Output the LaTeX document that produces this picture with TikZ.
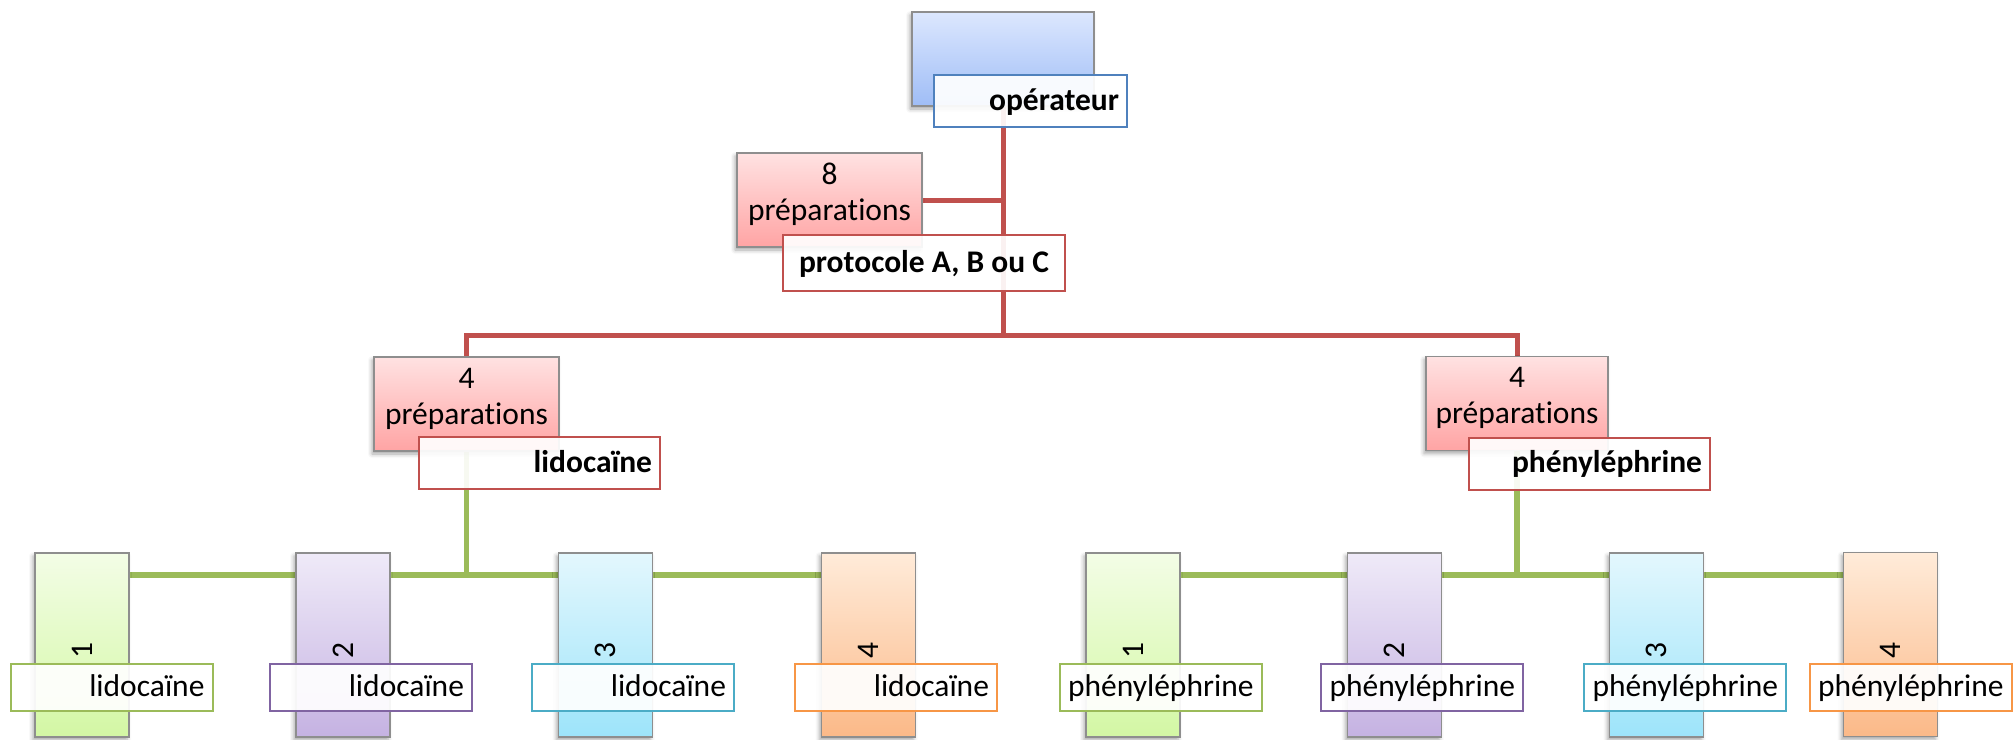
\documentclass[tikz,border=0pt]{standalone}
\usepackage{fontspec}
\setmainfont[Ligatures=NoCommon]{Carlito}
\usetikzlibrary{shadows.blur,backgrounds}

% frame and connector colours
\definecolor{boxgray}{HTML}{8E8E8E}
\definecolor{lineRed}{HTML}{C0504D}
\definecolor{lineGreen}{HTML}{9BBB59}
\definecolor{tagBlue}{HTML}{4F81BD}
\definecolor{tagPurple}{HTML}{8064A2}
\definecolor{tagAqua}{HTML}{4BACC6}
\definecolor{tagOrange}{HTML}{F79646}
% gradient fills
\definecolor{blueTop}{HTML}{DCE7FE}
\definecolor{blueBot}{HTML}{9FBDF6}
\definecolor{redTop}{HTML}{FFE2E2}
\definecolor{redBot}{HTML}{FFA4A4}
\definecolor{greenTop}{HTML}{F3FDE6}
\definecolor{greenBot}{HTML}{D3F7A4}
\definecolor{purpTop}{HTML}{EFEAF8}
\definecolor{purpBot}{HTML}{C5B2E2}
\definecolor{aquaTop}{HTML}{E3F7FD}
\definecolor{aquaBot}{HTML}{9DE4FA}
\definecolor{orTop}{HTML}{FFEBD9}
\definecolor{orBot}{HTML}{FBB988}

\begin{document}
\begin{tikzpicture}[x=1pt,y=-1pt,
  txt/.style={font=\fontsize{31.5}{36}\selectfont},
  bold/.style={font=\fontsize{31.5}{36}\selectfont\bfseries},
  card/.style={txt, draw=boxgray, line width=1.3pt, inner sep=0pt,
    blur shadow={shadow xshift=-2pt, shadow yshift=-3pt,
                 shadow blur radius=4pt, shadow opacity=35}},
  headbox/.style={card, minimum width=182pt, minimum height=94pt,
    top color=blueTop, bottom color=blueBot},
  prepbox/.style={card, align=center, minimum height=94pt, text depth=16pt,
    top color=redTop, bottom color=redBot},
  tall/.style={card, minimum width=94pt, minimum height=184pt},
  tag/.style={txt, fill=white, fill opacity=0.92, text opacity=1,
    line width=2pt, inner xsep=8pt, inner ysep=0pt, minimum height=52pt,
    text height=23pt, text depth=5pt},
  smalltag/.style={tag, text width=186pt, align=right, minimum height=47pt},
  numtxt/.style={txt, rotate=90, inner sep=0pt, xshift=-5.8pt},
  redline/.style={draw=lineRed, line width=5pt},
  greenline/.style={draw=lineGreen, line width=5.5pt},
]
\useasboundingbox (0,0) rectangle (2015,739);

% top of the tree
\node[headbox] (b0) at (1003,59) {};
\node[tag, bold, draw=tagBlue, text width=177pt, align=right] (l0) at (1030.5,101) {opérateur};

\node[prepbox, minimum width=185pt] (p8) at (829.5,200) {8\\préparations};
\node[tag, bold, draw=lineRed, minimum width=282pt, minimum height=56pt] (l8) at (924,263) {protocole A, B ou C};

% second level
\node[prepbox, minimum width=185pt] (pL) at (466.5,404) {4\\préparations};
\node[tag, bold, draw=lineRed, text width=225pt, align=right] (lL) at (539.5,463) {lidocaïne};

\node[prepbox, minimum width=182pt] (pR) at (1517,403.5) {4\\préparations};
\node[tag, bold, draw=lineRed, text width=225pt, align=right] (lR) at (1589.5,463.5) {phényléphrine};

% leaves
\node[tall, top color=greenTop, bottom color=greenBot] (c1) at (82,645) {};
\node[tall, top color=purpTop, bottom color=purpBot] (c2) at (343,645) {};
\node[tall, top color=aquaTop, bottom color=aquaBot] (c3) at (605.5,645) {};
\node[tall, top color=orTop, bottom color=orBot] (c4) at (868.5,645) {};
\node[tall, top color=greenTop, bottom color=greenBot] (c5) at (1133,645) {};
\node[tall, top color=purpTop, bottom color=purpBot] (c6) at (1394.5,645) {};
\node[tall, top color=aquaTop, bottom color=aquaBot] (c7) at (1656.5,645) {};
\node[tall, top color=orTop, bottom color=orBot] (c8) at (1890.5,644.5) {};

\node[numtxt] (n1) at (c1) {1};
\node[numtxt] (n2) at (c2) {2};
\node[numtxt] (n3) at (c3) {3};
\node[numtxt] (n4) at (c4) {4};
\node[numtxt] (n5) at (c5) {1};
\node[numtxt] (n6) at (c6) {2};
\node[numtxt] (n7) at (c7) {3};
\node[numtxt] (n8) at (c8) {4};

\node[smalltag, draw=lineGreen] (t1) at (111.5,687.5) {lidocaïne};
\node[smalltag, draw=tagPurple] (t2) at (371,687.5) {lidocaïne};
\node[smalltag, draw=tagAqua] (t3) at (633,687.5) {lidocaïne};
\node[smalltag, draw=tagOrange] (t4) at (896,687.5) {lidocaïne};
\node[smalltag, draw=lineGreen] (t5) at (1160.5,687.5) {phényléphrine};
\node[smalltag, draw=tagPurple] (t6) at (1422,687.5) {phényléphrine};
\node[smalltag, draw=tagAqua] (t7) at (1685,687.5) {phényléphrine};
\node[smalltag, draw=tagOrange] (t8) at (1910.5,687.5) {phényléphrine};

% connectors, behind the boxes
\coordinate (split) at (1003,335);
\coordinate (gL) at (466.5,575);
\coordinate (gR) at (1517,575);
\begin{pgfonlayer}{background}
  \draw[redline] (b0.south) -- (split);
  \draw[redline] (p8.east) -- (p8.east -| split);
  \draw[redline] (pL.north) |- (split) -| (pR.north);
  \draw[greenline] (pL.south) -- (gL);
  \draw[greenline] (gL -| c1.east) -- (gL -| c4.west);
  \draw[greenline] (pR.south) -- (gR);
  \draw[greenline] (gR -| c5.east) -- (gR -| c8.west);
\end{pgfonlayer}
\end{tikzpicture}
\end{document}
